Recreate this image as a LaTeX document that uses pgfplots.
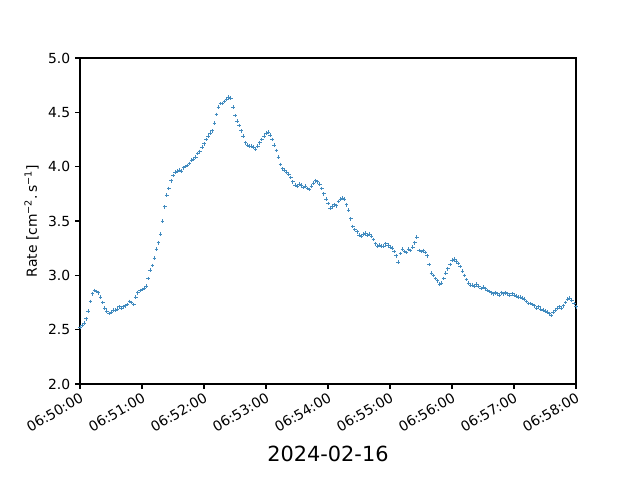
\documentclass[border=0pt]{standalone}
\usepackage{fontspec}
\setmainfont{DejaVu Sans}
\usepackage{pgfplots}
\pgfplotsset{compat=1.18}
\definecolor{tabblue}{HTML}{1F77B4}
\begin{document}
\begin{tikzpicture}
\path[use as bounding box] (-57.6pt,-69.12pt) rectangle (403.2pt,276.48pt);
\begin{axis}[
  at={(0,0)}, anchor=south west,
  scale only axis, width=357.12pt, height=234.72pt,
  xmin=0, xmax=480, ymin=2.0, ymax=5.0,
  xtick={0,60,120,180,240,300,360,420,480},
  xticklabels={06:50:00,06:51:00,06:52:00,06:53:00,06:54:00,06:55:00,06:56:00,06:57:00,06:58:00},
  ytick={2.0,2.5,3.0,3.5,4.0,4.5,5.0},
  yticklabel style={/pgf/number format/fixed, /pgf/number format/fixed zerofill, /pgf/number format/precision=1},
  /pgf/number format/assume math mode=true,
  tick label style={font=\fontsize{10}{12}\selectfont},
  xticklabel style={rotate=30, anchor=north east, inner sep=1.5pt},
  tick align=outside, major tick length=3.5pt,
  xtick pos=left, ytick pos=left,
  xlabel={2024-02-16},
  xlabel style={font=\fontsize{15}{18}\selectfont, yshift=-4.5pt},
  ylabel={Rate [cm\textsuperscript{−2}.\,s\textsuperscript{−1}]},
  ylabel style={font=\fontsize{10}{12}\selectfont},
  axis line style={line width=0.8pt},
  major tick style={line width=0.8pt, black},
  clip=false,
]
\addplot[only marks, mark=+, mark size=1.3pt, mark options={line width=0.55pt}, color=tabblue!85!white] coordinates {
(0,2.52)(2,2.54)(4,2.56)(6,2.60)(8,2.67)(10,2.76)(12,2.83)(14,2.86)(16,2.85)(18,2.84)
(20,2.80)(22,2.75)(24,2.70)(26,2.67)(28,2.65)(30,2.66)(32,2.68)(34,2.68)(36,2.69)(38,2.71)
(40,2.70)(42,2.71)(44,2.72)(46,2.73)(48,2.76)(50,2.75)(52,2.73)(54,2.80)(56,2.84)(58,2.86)
(60,2.87)(62,2.88)(64,2.90)(66,2.97)(68,3.05)(70,3.09)(72,3.16)(74,3.24)(76,3.30)(78,3.38)
(80,3.50)(82,3.63)(84,3.74)(86,3.80)(88,3.87)(90,3.92)(92,3.95)(94,3.96)(96,3.97)(98,3.96)
(100,3.99)(102,4.00)(104,4.01)(106,4.03)(108,4.06)(110,4.07)(112,4.09)(114,4.12)(116,4.14)(118,4.18)
(120,4.21)(122,4.25)(124,4.28)(126,4.31)(128,4.33)(130,4.40)(132,4.48)(134,4.55)(136,4.58)(138,4.58)
(140,4.60)(142,4.62)(144,4.64)(146,4.63)(148,4.55)(150,4.47)(152,4.42)(154,4.38)(156,4.33)(158,4.28)
(160,4.22)(162,4.20)(164,4.19)(166,4.19)(168,4.18)(170,4.16)(172,4.19)(174,4.22)(176,4.25)(178,4.28)
(180,4.31)(182,4.32)(184,4.29)(186,4.25)(188,4.20)(190,4.15)(192,4.09)(194,4.02)(196,3.98)(198,3.97)
(200,3.95)(202,3.93)(204,3.90)(206,3.86)(208,3.83)(210,3.82)(212,3.84)(214,3.83)(216,3.81)(218,3.82)
(220,3.80)(222,3.79)(224,3.82)(226,3.85)(228,3.87)(230,3.86)(232,3.84)(234,3.80)(236,3.75)(238,3.70)
(240,3.66)(242,3.62)(244,3.63)(246,3.65)(248,3.64)(250,3.68)(252,3.70)(254,3.71)(256,3.70)(258,3.65)
(260,3.60)(262,3.52)(264,3.45)(266,3.42)(268,3.40)(270,3.37)(272,3.36)(274,3.38)(276,3.39)(278,3.37)
(280,3.38)(282,3.36)(284,3.33)(286,3.29)(288,3.27)(290,3.28)(292,3.27)(294,3.27)(296,3.29)(298,3.28)
(300,3.26)(302,3.25)(304,3.22)(306,3.18)(308,3.12)(310,3.20)(312,3.24)(314,3.22)(316,3.21)(318,3.24)
(320,3.23)(322,3.26)(324,3.30)(326,3.35)(328,3.23)(330,3.22)(332,3.23)(334,3.21)(336,3.18)(338,3.10)
(340,3.02)(342,3.00)(344,2.97)(346,2.95)(348,2.92)(350,2.93)(352,2.97)(354,3.02)(356,3.06)(358,3.10)
(360,3.14)(362,3.15)(364,3.13)(366,3.11)(368,3.08)(370,3.04)(372,3.00)(374,2.96)(376,2.93)(378,2.91)
(380,2.91)(382,2.90)(384,2.92)(386,2.90)(388,2.88)(390,2.89)(392,2.88)(394,2.86)(396,2.85)(398,2.84)
(400,2.83)(402,2.84)(404,2.83)(406,2.82)(408,2.84)(410,2.83)(412,2.84)(414,2.83)(416,2.82)(418,2.83)
(420,2.82)(422,2.81)(424,2.80)(426,2.80)(428,2.79)(430,2.78)(432,2.76)(434,2.74)(436,2.74)(438,2.73)
(440,2.72)(442,2.70)(444,2.71)(446,2.69)(448,2.68)(450,2.67)(452,2.66)(454,2.65)(456,2.63)(458,2.66)
(460,2.68)(462,2.70)(464,2.71)(466,2.70)(468,2.72)(470,2.75)(472,2.78)(474,2.79)(476,2.77)(478,2.74)
(480,2.71)
};
\end{axis}
\end{tikzpicture}
\end{document}
